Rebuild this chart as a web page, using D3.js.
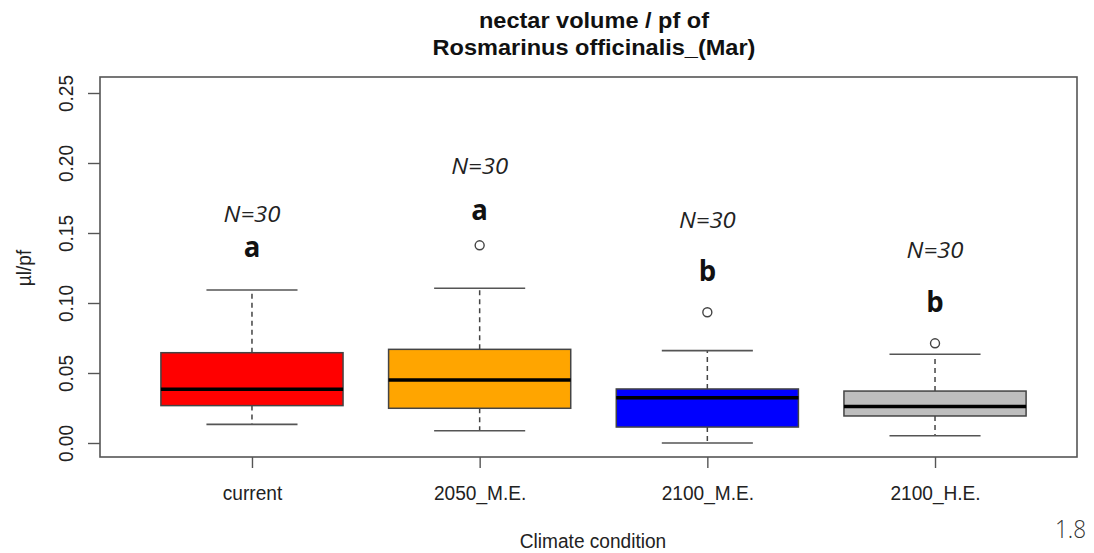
<!DOCTYPE html>
<html><head><meta charset="utf-8">
<script src="https://cdn.jsdelivr.net/npm/d3@7"></script>
<style>body{margin:0;background:#fff}svg{display:block}</style>
</head><body>
<svg id="c" width="1094" height="553"></svg>
<script>
const categories = ["current", "2050_M.E.", "2100_M.E.", "2100_H.E."];
const whiskerLow  = [0.0133, 0.0088, 0.0000, 0.0052];
const q1          = [0.0267, 0.0248, 0.0114, 0.0193];
const median      = [0.0384, 0.0450, 0.0324, 0.0260];
const q3          = [0.0645, 0.0669, 0.0386, 0.0371];
const whiskerHigh = [0.1093, 0.1105, 0.0660, 0.0634];
const outliers    = [[], [0.1412], [0.0934], [0.0712]];
const fills       = ["#FF0000", "#FFA500", "#0000FF", "#BEBEBE"];
const nLabels     = ["N=30", "N=30", "N=30", "N=30"];
const nPos        = [0.1581, 0.1919, 0.1534, 0.1319];
const letters     = ["a", "a", "b", "b"];
const letterPos   = [0.1329, 0.1593, 0.1157, 0.0936];
const yTicks      = [0, 0.05, 0.10, 0.15, 0.20, 0.25];

const svg = d3.select("#c");
const L = 100, R = 1077, T = 77, B = 457;
const x = d3.scaleLinear().domain([0.3325, 4.6236]).range([L, R]);
const y = d3.scaleLinear().domain([0, 0.25]).range([443, 93]);
const bw = x(1.4) - x(1);   // half box width (0.8 box width)
const cw = bw / 2;           // half staple width
const ARIAL = "Liberation Sans, Arial, sans-serif";
const OPEN = "Open Sans, sans-serif";

function txt(px, py, str, o) {
  const t = svg.append("text")
    .attr("transform", `translate(${px},${py})` + (o.rot ? ` rotate(${o.rot})` : "") + ` scale(${o.sx || 1},1)`)
    .attr("text-anchor", o.anchor || "middle")
    .attr("font-family", o.family || ARIAL)
    .attr("font-size", o.size)
    .attr("fill", o.fill || "#222")
    .text(str);
  if (o.weight) t.attr("font-weight", o.weight);
  if (o.style) t.attr("font-style", o.style);
  return t;
}

// title
txt(594, 28, "nectar volume / pf of", {size: 22, weight: "bold", sx: 1.07, fill: "#111"});
txt(594, 55, "Rosmarinus officinalis_(Mar)", {size: 22, weight: "bold", sx: 1.07, fill: "#111"});

// boxes
const g = svg.append("g");
categories.forEach((c, i) => {
  const cx = x(i + 1);
  g.append("line").attr("x1", cx).attr("x2", cx).attr("y1", y(q3[i])).attr("y2", y(whiskerHigh[i]))
    .attr("stroke", "#444").attr("stroke-width", 1.5).attr("stroke-dasharray", "5,4");
  g.append("line").attr("x1", cx).attr("x2", cx).attr("y1", y(q1[i])).attr("y2", y(whiskerLow[i]))
    .attr("stroke", "#444").attr("stroke-width", 1.5).attr("stroke-dasharray", "5,4");
  [whiskerHigh[i], whiskerLow[i]].forEach(v => {
    g.append("line").attr("x1", cx - cw).attr("x2", cx + cw).attr("y1", y(v)).attr("y2", y(v))
      .attr("stroke", "#555").attr("stroke-width", 1.6);
  });
  g.append("rect").attr("x", cx - bw).attr("width", 2 * bw)
    .attr("y", y(q3[i])).attr("height", y(q1[i]) - y(q3[i]))
    .attr("fill", fills[i]).attr("stroke", "#444").attr("stroke-width", 1.5);
  g.append("line").attr("x1", cx - bw).attr("x2", cx + bw).attr("y1", y(median[i])).attr("y2", y(median[i]))
    .attr("stroke", "#000").attr("stroke-width", 3.5);
  outliers[i].forEach(v => {
    g.append("circle").attr("cx", cx).attr("cy", y(v)).attr("r", 4.5)
      .attr("fill", "none").attr("stroke", "#444").attr("stroke-width", 1.4);
  });
  txt(cx, y(nPos[i]), nLabels[i], {family: OPEN, style: "italic", size: 21, sx: 1.14, fill: "#222"});
  txt(cx, y(letterPos[i]), letters[i], {family: OPEN, weight: "bold", size: 29, sx: 0.95, fill: "#111"});
});

// frame
svg.append("rect").attr("x", L).attr("y", T).attr("width", R - L).attr("height", B - T)
  .attr("fill", "none").attr("stroke", "#555").attr("stroke-width", 1.6);

// y axis
const yAxis = svg.append("g").attr("transform", `translate(${L},0)`)
  .call(d3.axisLeft(y).tickValues(yTicks).tickFormat(d3.format(".2f")).tickSize(12).tickSizeOuter(0));
yAxis.select(".domain").remove();
yAxis.selectAll(".tick line").attr("stroke", "#555").attr("stroke-width", 1.4);
yAxis.selectAll(".tick text")
  .attr("font-family", ARIAL).attr("font-size", 21).attr("fill", "#222")
  .attr("text-anchor", "middle").attr("x", 0).attr("y", 0).attr("dy", 0)
  .attr("transform", "translate(-27,0) rotate(-90) scale(0.91,1)");

// x axis
const xAxis = svg.append("g").attr("transform", `translate(0,${B})`)
  .call(d3.axisBottom(x).tickValues([1, 2, 3, 4]).tickFormat(d => categories[d - 1]).tickSize(11).tickSizeOuter(0));
xAxis.select(".domain").remove();
xAxis.selectAll(".tick line").attr("stroke", "#555").attr("stroke-width", 1.4);
xAxis.selectAll(".tick text")
  .attr("font-family", ARIAL).attr("font-size", 21).attr("fill", "#222")
  .attr("y", 0).attr("dy", 0).attr("transform", "translate(0,43) scale(0.91,1)");

// axis titles
txt(593, 548, "Climate condition", {size: 21, sx: 0.91});
txt(31, 268, "µl/pf", {size: 21, sx: 0.91, rot: -90});

txt(1086, 538, "1.8", {family: OPEN, weight: 300, size: 25, sx: 0.9, anchor: "end", fill: "#333"});
</script>
</body></html>
